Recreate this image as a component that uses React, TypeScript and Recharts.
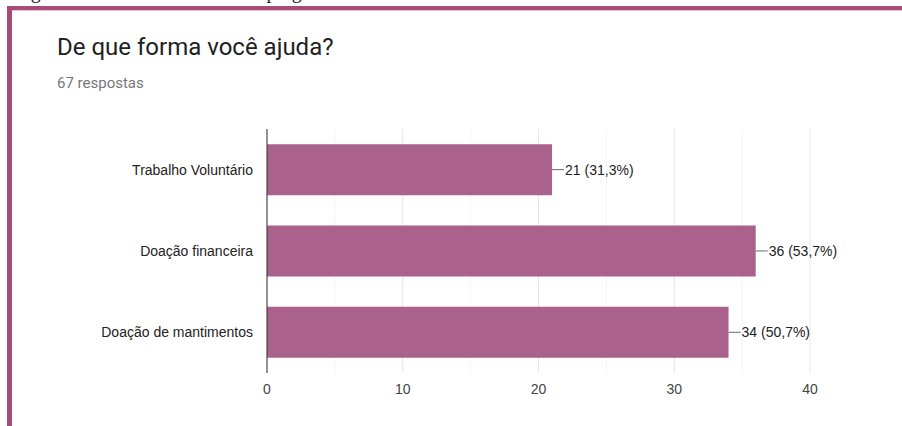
import React from 'react';
import { BarChart, Bar, XAxis, YAxis, CartesianGrid, LabelList } from 'recharts';

const categories = ['Trabalho Voluntário', 'Doação financeira', 'Doação de mantimentos'];
const counts = [21, 36, 34];
const percents = ['31,3%', '53,7%', '50,7%'];
const xTicks = [0, 10, 20, 30, 40];
const minorGrid = [5, 15, 25, 35];

const chartData = categories.map((name, i) => ({ name, value: counts[i], pct: percents[i] }));

const BAR_COLOR = '#aa618b';
const FRAME_COLOR = '#a84b78';

// leader line + "n (p%)" label to the right of each bar
const ValueLabel = (props: any) => {
  const { x, y, width, height, index } = props;
  const endX = Number(x) + Number(width);
  const midY = Number(y) + Number(height) / 2;
  const d = chartData[index];
  return (
    <g>
      <line x1={endX} y1={midY} x2={endX + 12} y2={midY} stroke="#666" strokeWidth={1} />
      <text x={endX + 13} y={midY} dy="0.35em" fill="#222" fontSize={14} fontFamily="'Liberation Sans', Arial, sans-serif">
        {`${d.value} (${d.pct})`}
      </text>
    </g>
  );
};

const App: React.FC = () => {
  return (
    <div style={{ position: 'absolute', left: 0, top: 0, width: 902, height: 426, overflow: 'hidden', background: '#fff' }}>
      {/* caption above the frame, cut off by the page edge */}
      <div
        style={{
          position: 'absolute',
          left: 14,
          top: -20,
          fontFamily: "'Liberation Serif', 'Times New Roman', serif",
          fontSize: 20,
          lineHeight: '22px',
          color: '#222',
          whiteSpace: 'nowrap',
        }}
      >
        Figura 11 – Gráfico referente à pergunta
      </div>

      {/* frame */}
      <div
        style={{
          position: 'absolute',
          left: 7,
          top: 6,
          width: 902,
          height: 430,
          borderTop: `4px solid ${FRAME_COLOR}`,
          borderLeft: `5px solid ${FRAME_COLOR}`,
          boxSizing: 'border-box',
        }}
      />
      <div style={{ position: 'absolute', left: 12, top: 10, width: 890, height: 1, background: '#e6c3d3' }} />

      <div
        style={{
          position: 'absolute',
          left: 57,
          top: 32,
          fontFamily: 'Roboto, sans-serif',
          fontSize: 24,
          lineHeight: '30px',
          color: '#212121',
          whiteSpace: 'nowrap',
        }}
      >
        De que forma você ajuda?
      </div>
      <div
        style={{
          position: 'absolute',
          left: 57,
          top: 74,
          fontFamily: 'Roboto, sans-serif',
          fontSize: 15,
          lineHeight: '18px',
          color: '#777',
          whiteSpace: 'nowrap',
        }}
      >
        67 respostas
      </div>

      <div style={{ position: 'absolute', left: 0, top: 0 }}>
        <BarChart
          width={902}
          height={426}
          data={chartData}
          layout="vertical"
          margin={{ top: 129, right: 92, bottom: 0, left: 0 }}
          barCategoryGap="18.6%"
        >
          <CartesianGrid horizontal={false} verticalValues={minorGrid} stroke="#f4f4f4" />
          <CartesianGrid horizontal={false} verticalValues={xTicks} stroke="#e6e6e6" />
          <XAxis
            type="number"
            domain={[0, 40]}
            ticks={xTicks}
            axisLine={false}
            tickLine={false}
            tickSize={0}
            tickMargin={11}
            height={53}
            tick={{ fill: '#444', fontSize: 14, fontFamily: "'Liberation Sans', Arial, sans-serif" }}
          />
          <YAxis
            type="category"
            dataKey="name"
            width={267}
            axisLine={{ stroke: '#333', strokeWidth: 1 }}
            tickLine={false}
            tickSize={0}
            tickMargin={14}
            tick={{ fill: '#222', fontSize: 14, fontFamily: "'Liberation Sans', Arial, sans-serif" }}
          />
          <Bar dataKey="value" fill={BAR_COLOR} isAnimationActive={false}>
            <LabelList dataKey="value" content={ValueLabel} />
          </Bar>
        </BarChart>
      </div>
    </div>
  );
};

export default App;
